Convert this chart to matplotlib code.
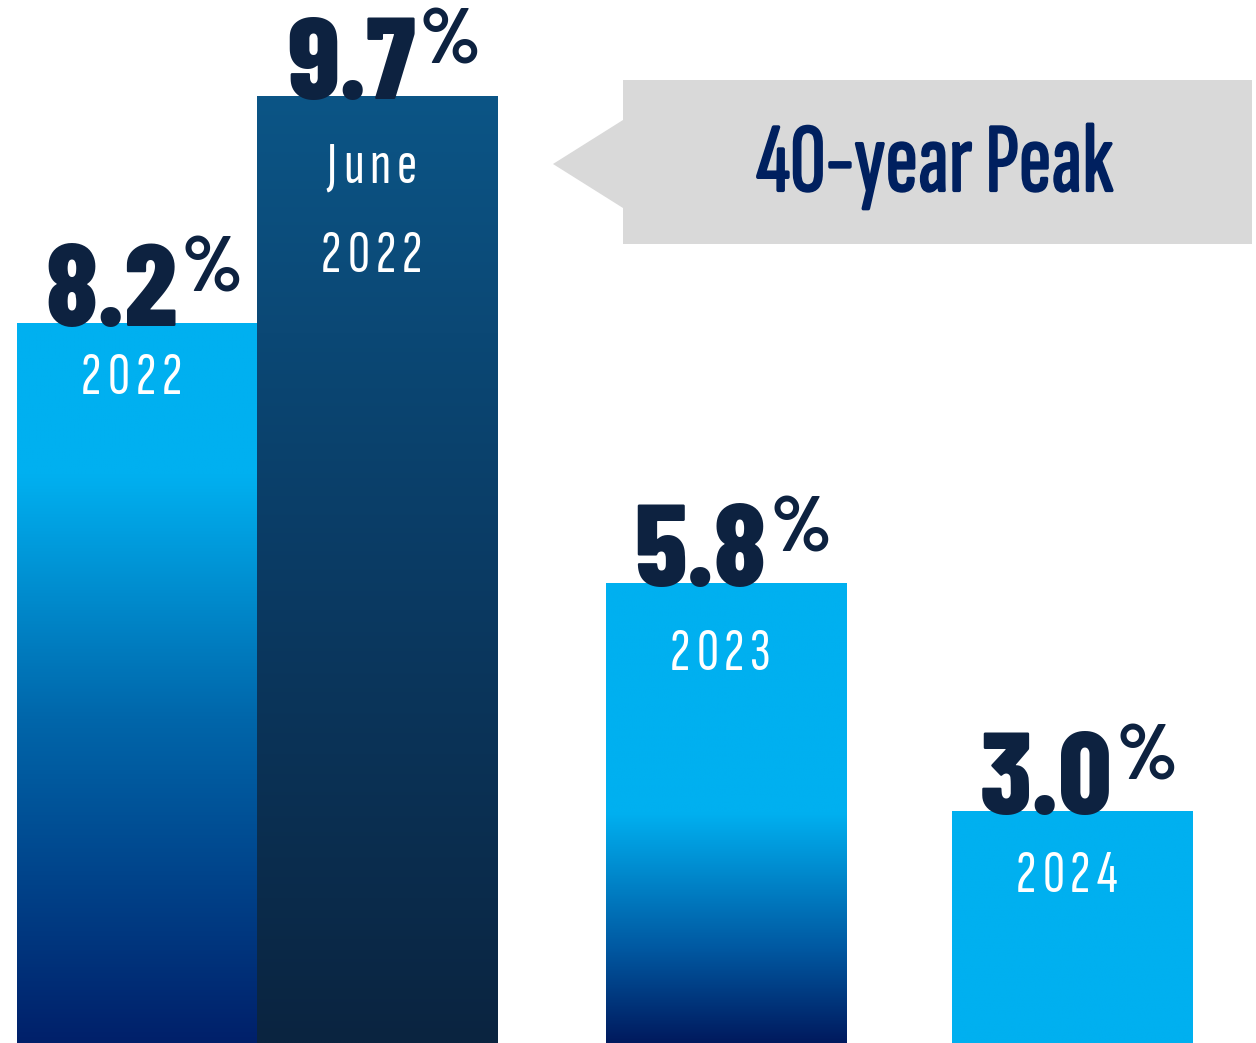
import matplotlib
matplotlib.use("Agg")
import matplotlib.pyplot as plt
import matplotlib.patheffects as pe
import numpy as np
from matplotlib.colors import LinearSegmentedColormap
from matplotlib.patches import Polygon

# データ
values = [8.2, 9.7, 5.8, 3.0]
year_labels = [["2022"], ["June", "2022"], ["2023"], ["2024"]]
bar_heights = [720, 947, 460, 232]   # 描画上の高さ(元図は値に比例していない)
callout_text = "40-year Peak"

# 体裁
W, H = 1256, 1043
bar_left = [17, 257, 606, 952]
bar_width = 241
label_drop = [[71], [87, 176], [87], [81]]    # バー上端から年ラベルのベースラインまで(px)
NAVY = "#0D2240"
PEAK_NAVY = "#00205F"
CYAN = "#00B0F0"

big_font = ["Barlow Condensed", "DejaVu Sans"]
narrow_font = ["Sofia Sans Extra Condensed", "Barlow Condensed", "DejaVu Sans"]

# 各バーのグラデーション (下=0, 上=1)
cmaps = [
    LinearSegmentedColormap.from_list("g1", [(0, "#00206A"), (0.45, "#0066AA"), (0.79, CYAN), (1, CYAN)]),
    LinearSegmentedColormap.from_list("g2", [(0, "#0B2440"), (0.5, "#0A3B64"), (1, "#0C5586")]),
    LinearSegmentedColormap.from_list("g3", [(0, "#001A5E"), (0.2, "#0057A0"), (0.5, CYAN), (1, CYAN)]),
    LinearSegmentedColormap.from_list("g4", [(0, CYAN), (1, CYAN)]),
]

fig = plt.figure(figsize=(W / 100, H / 100), dpi=100)
ax = fig.add_axes([0, 0, 1, 1])
ax.set_xlim(0, W)
ax.set_ylim(0, H)
ax.axis("off")
renderer = fig.canvas.get_renderer()


def spaced_text(xc, y, s, track, **kw):
    """字間を空けて1文字ずつ配置"""
    texts = [ax.text(0, y, ch, ha="left", va="baseline", **kw) for ch in s]
    widths = [t.get_window_extent(renderer).width for t in texts]
    x = xc - (sum(widths) + track * (len(s) - 1)) / 2
    for t, w in zip(texts, widths):
        t.set_x(x)
        x += w + track


grad = np.linspace(0, 1, 512).reshape(-1, 1)
centers = [l + bar_width / 2 for l in bar_left]
bars = ax.bar(centers, bar_heights, width=bar_width, color="none", edgecolor="none")
for bar, cm in zip(bars, cmaps):
    x0, w, h = bar.get_x(), bar.get_width(), bar.get_height()
    im = ax.imshow(grad, cmap=cm, origin="lower", aspect="auto",
                   extent=[x0, x0 + w, 0, h], zorder=1, interpolation="bilinear")
    im.set_clip_path(bar)

# 吹き出し
tip_x, box_l, box_r = 553, 623, 1252
box_t, box_b = H - 80, H - 244
poly = Polygon([(box_l, box_t), (box_r, box_t), (box_r, box_b), (box_l, box_b),
                (box_l, H - 208), (tip_x, H - 164), (box_l, H - 120)],
               closed=True, facecolor="#D9D9D9", edgecolor="none", zorder=1)
ax.add_patch(poly)
ax.text((755 + 1115) / 2, H - 191, callout_text, ha="center", va="baseline",
        fontsize=71, color=PEAK_NAVY, family=narrow_font, zorder=3,
        path_effects=[pe.withStroke(linewidth=1.6, foreground=PEAK_NAVY)])

for c, v, h, labs, drops in zip(centers, values, bar_heights, year_labels, label_drop):
    num = ax.text(0, h - 3, f"{v:.1f}", ha="left", va="baseline", fontsize=84,
                  color=NAVY, family=big_font, fontweight=800, zorder=3)
    pct = ax.text(0, h + 32, "%", ha="left", va="baseline", fontsize=57,
                  color=NAVY, family=big_font, fontweight=700, zorder=3)
    nw = num.get_window_extent(renderer).width
    pw = pct.get_window_extent(renderer).width
    gap = 4
    start = c + 6 - (nw + gap + pw) / 2
    num.set_x(start)
    pct.set_x(start + nw + gap)

    for lab, d in zip(labs, drops):
        spaced_text(c - 6, h - d, lab, 6, fontsize=44, color="white",
                    family=narrow_font, zorder=3)

fig.savefig("out.png", dpi=100)
